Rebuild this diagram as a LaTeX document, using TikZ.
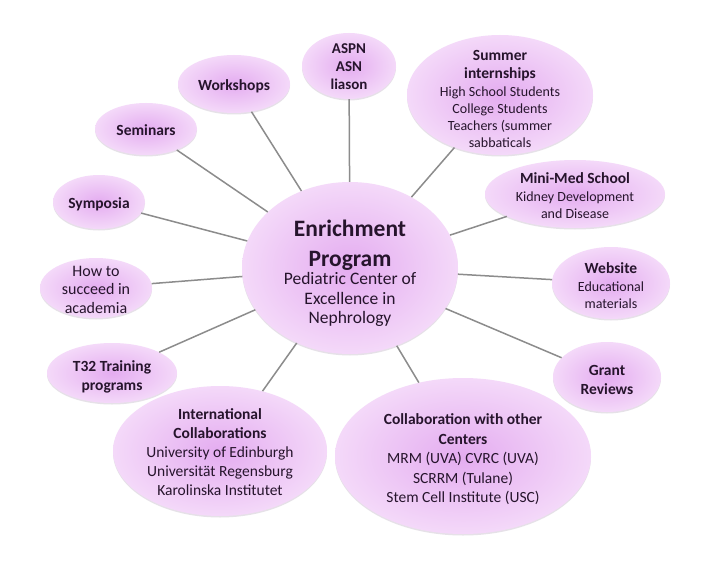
\documentclass[tikz,border=0pt]{standalone}
\usepackage{fontspec}
\setmainfont{Carlito}
\usetikzlibrary{shapes.geometric,shadows}
\definecolor{bubin}{RGB}{228,172,240}
\definecolor{bubout}{RGB}{244,217,249}
\definecolor{txt}{RGB}{38,20,44}
\definecolor{link}{RGB}{140,140,140}
\definecolor{shad}{RGB}{120,90,130}
\tikzset{
  bub/.style={ellipse, inner sep=0pt, shading=radial, inner color=bubin, outer color=bubout,
    drop shadow={shadow xshift=0pt, shadow yshift=-1.5pt, opacity=0.18, fill=shad}},
  lbl/.style={align=center, text=txt, inner sep=0pt},
  conn/.style={draw=link, line width=1.5pt}
}
\newcommand{\bt}[1]{{\bfseries #1}}
\newcommand{\bigt}[1]{{\fontsize{23.5}{30}\selectfont\bfseries #1}}
\newcommand{\hd}[1]{{\fontsize{15.5}{18}\selectfont\bfseries #1}}
\begin{document}
\begin{tikzpicture}[x=1pt,y=-1pt]
\useasboundingbox (0,0) rectangle (720,567);
\fill[white] (0,0) rectangle (720,567);
% ellipses
\node[bub, minimum width=216pt, minimum height=172pt] (ctr) at (350,268) {};
\node[bub, minimum width=94pt, minimum height=66pt] (aspn) at (349,66) {};
\node[bub, minimum width=186pt, minimum height=120pt] (summer) at (500,95) {};
\node[bub, minimum width=180pt, minimum height=68pt] (minimed) at (575,194) {};
\node[bub, minimum width=118pt, minimum height=72pt] (web) at (611,283) {};
\node[bub, minimum width=108pt, minimum height=70pt] (grant) at (607,377) {};
\node[bub, minimum width=256pt, minimum height=156pt] (collab) at (463,456) {};
\node[bub, minimum width=214pt, minimum height=130pt] (intl) at (220,451) {};
\node[bub, minimum width=130pt, minimum height=60pt] (t32) at (112,373) {};
\node[bub, minimum width=112pt, minimum height=60pt] (howto) at (96,288) {};
\node[bub, minimum width=92pt, minimum height=54pt] (sympo) at (99,202) {};
\node[bub, minimum width=102pt, minimum height=52pt] (semin) at (146,129) {};
\node[bub, minimum width=112pt, minimum height=58pt] (works) at (234,84) {};
% texts
\node[lbl, font=\fontsize{17.5}{19.5}\selectfont] (ctrt) at ([yshift=-5.5pt]ctr.center)
  {\bigt{Enrichment}\\[10pt]\bigt{Program}\\[-1pt]Pediatric Center of\\Excellence in\\Nephrology};
\node[lbl, font=\fontsize{15}{18}\selectfont\bfseries] (aspnt) at ([yshift=-1pt]aspn.center) {ASPN\\ASN\\liason};
\node[lbl, font=\fontsize{14}{17}\selectfont] (summert) at ([yshift=-4pt]summer.center)
  {\hd{Summer}\\[1pt]\hd{internships}\\[1pt]High School Students\\College Students\\Teachers (summer\\sabbaticals};
\node[lbl, font=\fontsize{14}{17}\selectfont] (minimedt) at ([yshift=-2pt]minimed.center)
  {\hd{Mini-Med School}\\[1pt]Kidney Development\\and Disease};
\node[lbl, font=\fontsize{14}{17}\selectfont] (webt) at ([yshift=-3pt]web.center)
  {\hd{Website}\\[1pt]Educational\\materials};
\node[lbl, font=\fontsize{15.5}{19}\selectfont\bfseries] (grantt) at ([yshift=-2.5pt]grant.center) {Grant\\Reviews};
\node[lbl, font=\fontsize{15.5}{19.5}\selectfont] (collabt) at ([yshift=-3.5pt]collab.center)
  {\bt{Collaboration with other}\\\bt{Centers}\\MRM (UVA) CVRC (UVA)\\SCRRM (Tulane)\\Stem Cell Institute (USC)};
\node[lbl, font=\fontsize{15.5}{19}\selectfont] (intlt) at ([yshift=-1pt]intl.center)
  {\bt{International}\\\bt{Collaborations}\\University of Edinburgh\\Universität Regensburg\\Karolinska Institutet};
\node[lbl, font=\fontsize{15.5}{19}\selectfont\bfseries] (t32t) at ([yshift=-3.5pt]t32.center) {T32 Training\\programs};
\node[lbl, font=\fontsize{16}{18.5}\selectfont] (howtot) at ([yshift=-1.5pt]howto.center) {How to\\succeed in\\academia};
\node[lbl, font=\fontsize{15.5}{19}\selectfont\bfseries] (sympot) at ([yshift=-2pt]sympo.center) {Symposia};
\node[lbl, font=\fontsize{15.5}{19}\selectfont\bfseries] (semint) at ([yshift=-1pt]semin.center) {Seminars};
\node[lbl, font=\fontsize{15.5}{19}\selectfont\bfseries] (workst) at ([yshift=-2pt]works.center) {Workshops};
% connectors
\foreach \n in {aspn,summer,minimed,web,grant,collab,intl,t32,howto,sympo,semin,works}
  \draw[conn] (ctr) -- (\n);
\end{tikzpicture}
\end{document}
